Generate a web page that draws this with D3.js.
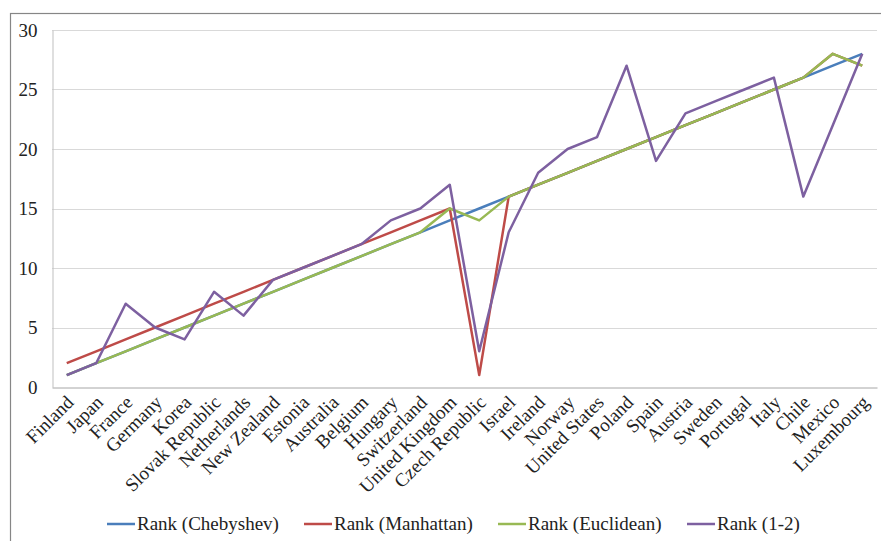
<!DOCTYPE html>
<html>
<head>
<meta charset="utf-8">
<script src="https://cdn.jsdelivr.net/npm/d3@7"></script>
<style>
  body { margin: 0; background: #fff; }
  svg text { font-family: "Liberation Serif", "Times New Roman", serif; fill: #222; }
</style>
</head>
<body>
<svg id="chart" width="881" height="541"></svg>
<script>
// ---- data ----
var countries = ["Finland", "Japan", "France", "Germany", "Korea", "Slovak Republic", "Netherlands",
  "New Zealand", "Estonia", "Australia", "Belgium", "Hungary", "Switzerland", "United Kingdom",
  "Czech Republic", "Israel", "Ireland", "Norway", "United States", "Poland", "Spain", "Austria",
  "Sweden", "Portugal", "Italy", "Chile", "Mexico", "Luxembourg"];

var rankChebyshev = [1, 2, 3, 4, 5, 6, 7, 8, 9, 10, 11, 12, 13, 14, 15, 16, 17, 18, 19, 20, 21, 22, 23, 24, 25, 26, 27, 28];
var rankManhattan = [2, 3, 4, 5, 6, 7, 8, 9, 10, 11, 12, 13, 14, 15, 1, 16, 17, 18, 19, 20, 21, 22, 23, 24, 25, 26, 28, 27];
var rankEuclidean = [1, 2, 3, 4, 5, 6, 7, 8, 9, 10, 11, 12, 13, 15, 14, 16, 17, 18, 19, 20, 21, 22, 23, 24, 25, 26, 28, 27];
var rank12 = [1, 2, 7, 5, 4, 8, 6, 9, 10, 11, 12, 14, 15, 17, 3, 13, 18, 20, 21, 27, 19, 23, 24, 25, 26, 16, 22, 28];

var yTicks = [0, 5, 10, 15, 20, 25, 30];

var series = [
  { name: "Rank (Chebyshev)", values: rankChebyshev, color: "#4a7ebb" },
  { name: "Rank (Manhattan)", values: rankManhattan, color: "#be4b48" },
  { name: "Rank (Euclidean)", values: rankEuclidean, color: "#98b954" },
  { name: "Rank (1-2)", values: rank12, color: "#7d60a0" }
];

// ---- layout ----
var svg = d3.select("#chart");
var plotLeft = 52, plotRight = 877, plotTop = 30, plotBottom = 387;

svg.append("rect")
  .attr("x", 10.5).attr("y", 13.5)
  .attr("width", 900).attr("height", 600)
  .style("fill", "none").style("stroke", "#868686").style("stroke-width", 1.2);

var x = d3.scaleBand().domain(countries).range([plotLeft, plotRight]);
var y = d3.scaleLinear().domain([0, 30]).range([plotBottom, plotTop]);

// gridlines
svg.append("g")
  .selectAll("line").data(yTicks.filter(function(d) { return d > 0; }))
  .enter().append("line")
  .attr("x1", plotLeft).attr("x2", plotRight)
  .attr("y1", function(d) { return Math.round(y(d)) + 0.5; })
  .attr("y2", function(d) { return Math.round(y(d)) + 0.5; })
  .style("stroke", "#d9d9d9").style("stroke-width", 1);

// y axis
var yAxis = svg.append("g")
  .attr("transform", "translate(" + (plotLeft + 0.5) + ",0)")
  .call(d3.axisLeft(y).tickValues(yTicks).tickSize(0).tickPadding(15));
yAxis.select(".domain").style("stroke", "#bfbfbf");
yAxis.selectAll("text").style("font-size", "19px")
  .style("font-family", "Liberation Serif, serif").attr("fill", "#222");

// x axis
var xAxis = svg.append("g")
  .attr("transform", "translate(0," + (Math.round(y(0)) + 0.5) + ")")
  .call(d3.axisBottom(x).tickSize(0).tickPadding(0));
xAxis.select(".domain").style("stroke", "#a6a6a6");
xAxis.selectAll("text")
  .style("font-size", "19px")
  .style("font-family", "Liberation Serif, serif")
  .attr("fill", "#222")
  .style("text-anchor", "end")
  .attr("dy", "0")
  .attr("transform", "translate(8,16) rotate(-45)");

// lines
var line = d3.line()
  .x(function(d, i) { return x(countries[i]) + x.bandwidth() / 2; })
  .y(function(d) { return y(d); });

svg.append("g").selectAll("path").data(series)
  .enter().append("path")
  .attr("d", function(s) { return line(s.values); })
  .style("fill", "none")
  .style("stroke", function(s) { return s.color; })
  .style("stroke-width", 2.5)
  .style("stroke-linejoin", "round");

// legend
var legendX = [107, 304, 498, 687];
var legend = svg.append("g").selectAll("g").data(series)
  .enter().append("g")
  .attr("transform", function(s, i) { return "translate(" + legendX[i] + ",524)"; });
legend.append("line")
  .attr("x1", 0).attr("x2", 28)
  .style("stroke", function(s) { return s.color; })
  .style("stroke-width", 2.5);
legend.append("text")
  .attr("x", 30).attr("y", 6)
  .style("font-size", "19px")
  .text(function(s) { return s.name; });
</script>
</body>
</html>
